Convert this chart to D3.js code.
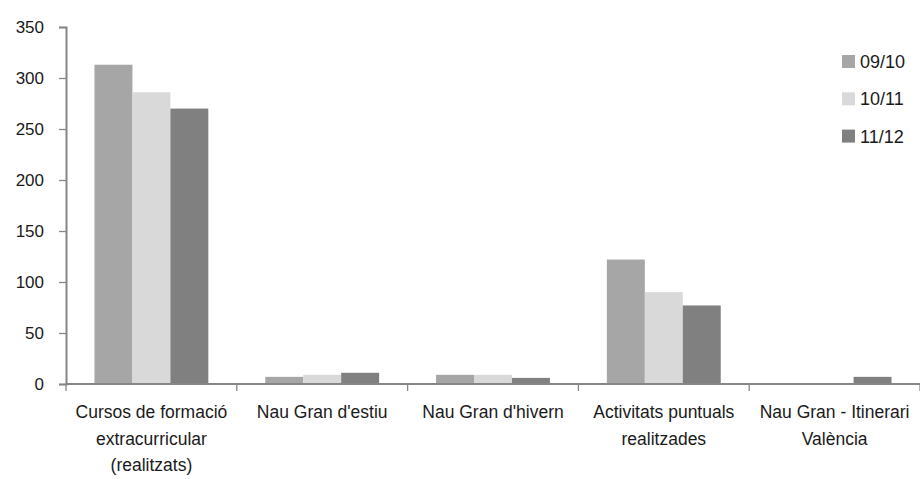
<!DOCTYPE html>
<html><head><meta charset="utf-8">
<script src="https://cdn.jsdelivr.net/npm/d3@7/dist/d3.min.js"></script>
<style>body{margin:0;background:#fff}svg{display:block}text{font-family:"Liberation Sans",Arial,sans-serif;fill:#1a1a1a}</style>
</head><body><svg id="c" width="920" height="479"></svg>
<script>
const categories = [
  ["Cursos de formació", "extracurricular", "(realitzats)"],
  ["Nau Gran d'estiu"],
  ["Nau Gran d'hivern"],
  ["Activitats puntuals", "realitzades"],
  ["Nau Gran - Itinerari", "València"]
];
const seriesNames = ["09/10", "10/11", "11/12"];
const s0910 = [313, 7, 9, 122, 0];
const s1011 = [286, 9, 9, 90, 0];
const s1112 = [270, 11, 6, 77, 7];
const yTicks = [0, 50, 100, 150, 200, 250, 300, 350];
const colors = ["#a6a6a6", "#d9d9d9", "#808080"];
const series = [s0910, s1011, s1112];

const svg = d3.select("#c");
const mLeft = 66, mRight = 920, mTop = 27, mBottom = 384;
const idx = d3.range(categories.length);
const x = d3.scaleBand().domain(idx).range([mLeft, mRight]).paddingInner(0).paddingOuter(0);
const cw = x.bandwidth();
const bw = cw / 4.5;
const xs = d3.scaleBand().domain(d3.range(3)).range([0.75 * bw, 3.75 * bw]);
const y = d3.scaleLinear().domain([0, 350]).range([mBottom, mTop]);

// bars
series.forEach((s, si) => {
  svg.append("g").selectAll("rect").data(s).join("rect")
    .attr("x", (d, i) => x(i) + xs(si))
    .attr("width", xs.bandwidth())
    .attr("y", d => y(d))
    .attr("height", d => y(0) - y(d))
    .attr("fill", colors[si]);
});

// y axis
const yAxis = d3.axisLeft(y).tickValues(yTicks).tickSize(7).tickPadding(15);
const gy = svg.append("g").attr("transform", `translate(${mLeft},0)`).call(yAxis);
gy.select(".domain").attr("stroke", "#868686").attr("stroke-width", 2);
gy.selectAll(".tick line").attr("stroke", "#868686").attr("stroke-width", 1.3);
gy.selectAll(".tick text").style("font-size", "17px").style("font-family", "'Liberation Sans',Arial,sans-serif").attr("fill", "#1a1a1a").attr("dy", "0.35em");

// x axis
const xb = d3.scaleLinear().domain([0, categories.length]).range([mLeft, mRight]);
const gx = svg.append("g");
gx.append("line").attr("x1", mLeft).attr("x2", mRight).attr("y1", mBottom).attr("y2", mBottom)
  .attr("stroke", "#868686").attr("stroke-width", 2);
gx.selectAll("line.t").data(d3.range(categories.length + 1)).join("line").attr("class", "t")
  .attr("x1", d => xb(d)).attr("x2", d => xb(d)).attr("y1", mBottom).attr("y2", mBottom + 7)
  .attr("stroke", "#868686").attr("stroke-width", 1.3);

const lab = svg.append("g").selectAll("text").data(categories).join("text")
  .attr("text-anchor", "middle").style("font-size", "17.5px")
  .attr("transform", (d, i) => `translate(${x(i) + cw / 2},${418})`);
lab.selectAll("tspan").data(d => d).join("tspan")
  .attr("x", 0).attr("y", (d, i) => i * 26.5).text(d => d);

// legend
const lg = svg.append("g").selectAll("g").data(seriesNames).join("g")
  .attr("transform", (d, i) => `translate(842,${55 + i * 37.3})`);
lg.append("rect").attr("width", 13).attr("height", 13).attr("fill", (d, i) => colors[i]);
lg.append("text").attr("x", 18).attr("y", 6.5).attr("dy", "0.36em").style("font-size", "18px").text(d => d);
</script></body></html>
